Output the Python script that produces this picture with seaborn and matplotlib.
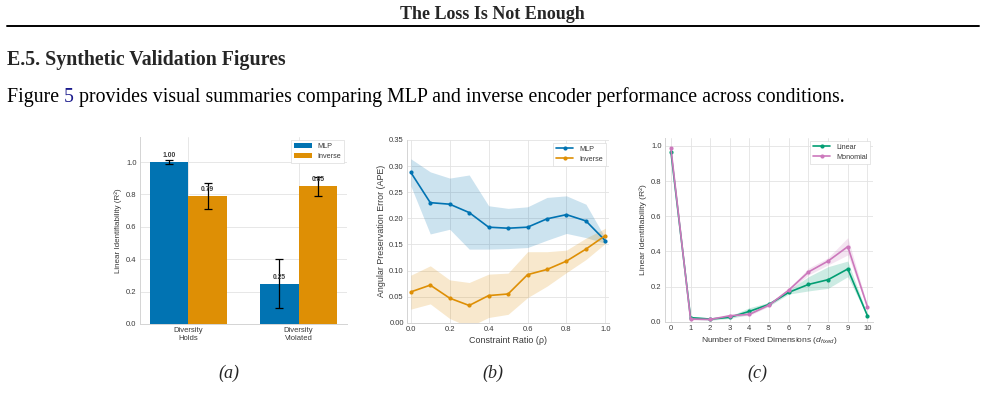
import numpy as np
import pandas as pd
import matplotlib
matplotlib.use("Agg")
import matplotlib.pyplot as plt
import seaborn as sns

# ---------------- data ----------------
conditions = ["Diversity\nHolds", "Diversity\nViolated"]
models = ["MLP", "Inverse"]
mlp_r2 = [1.00, 0.25]
mlp_r2_err = [0.01, 0.15]
inv_r2 = [0.79, 0.85]
inv_r2_err = [0.08, 0.06]

rho = [0.0, 0.1, 0.2, 0.3, 0.4, 0.5, 0.6, 0.7, 0.8, 0.9, 1.0]
mlp_ape = [0.288, 0.230, 0.227, 0.211, 0.183, 0.181, 0.183, 0.199, 0.207, 0.195, 0.157]
mlp_ape_lo = [0.262, 0.170, 0.179, 0.141, 0.141, 0.142, 0.144, 0.158, 0.171, 0.163, 0.152]
mlp_ape_hi = [0.314, 0.289, 0.277, 0.283, 0.224, 0.219, 0.222, 0.240, 0.243, 0.227, 0.162]
inv_ape = [0.059, 0.072, 0.047, 0.033, 0.052, 0.055, 0.092, 0.102, 0.118, 0.141, 0.167]
inv_ape_lo = [0.026, 0.036, 0.008, -0.008, 0.010, 0.016, 0.048, 0.070, 0.096, 0.121, 0.152]
inv_ape_hi = [0.091, 0.109, 0.082, 0.077, 0.093, 0.095, 0.136, 0.136, 0.139, 0.162, 0.181]

d_fixed = [0, 1, 2, 3, 4, 5, 6, 7, 8, 9, 10]
lin_r2 = [0.968, 0.023, 0.015, 0.025, 0.059, 0.099, 0.167, 0.212, 0.239, 0.300, 0.034]
lin_r2_lo = [0.955, 0.015, 0.008, 0.018, 0.042, 0.090, 0.157, 0.175, 0.190, 0.256, 0.028]
lin_r2_hi = [0.980, 0.030, 0.022, 0.032, 0.080, 0.110, 0.180, 0.256, 0.313, 0.345, 0.040]
mono_r2 = [0.987, 0.015, 0.013, 0.034, 0.042, 0.095, 0.180, 0.283, 0.345, 0.427, 0.085]
mono_r2_lo = [0.980, 0.010, 0.008, 0.028, 0.035, 0.088, 0.170, 0.266, 0.323, 0.380, 0.078]
mono_r2_hi = [0.994, 0.020, 0.018, 0.040, 0.050, 0.102, 0.190, 0.304, 0.364, 0.478, 0.092]

# ---------------- style ----------------
sns.set_theme(style="whitegrid")
pal = sns.color_palette("colorblind")
C_BLUE, C_ORANGE, C_GREEN, C_PINK = pal[0], pal[1], pal[2], pal[4]
plt.rcParams["font.family"] = ["Liberation Sans", "DejaVu Sans"]
plt.rcParams["mathtext.fontset"] = "custom"
plt.rcParams["mathtext.it"] = "Liberation Sans:italic"
plt.rcParams["mathtext.rm"] = "Liberation Sans"
plt.rcParams["axes.edgecolor"] = "#d4d4d4"
plt.rcParams["grid.color"] = "#e3e3e3"

FS = 5.5
LFS = 5.2
TXT = "#3a3a3a"

fig = plt.figure(figsize=(9.85, 3.98), dpi=100)
W, H = 985.0, 398.0


def axes_px(l, t, r, b):
    return fig.add_axes([l / W, 1 - b / H, (r - l) / W, (b - t) / H])


def style_ax(ax):
    sns.despine(ax=ax)
    ax.tick_params(labelsize=FS, colors=TXT, pad=2.5, length=0)
    ax.grid(True, linewidth=0.6)
    for s in ("left", "bottom"):
        ax.spines[s].set_linewidth(0.7)
    ax.set_axisbelow(True)


def style_legend(ax):
    lg = ax.legend(fontsize=LFS, loc="upper right", frameon=True, framealpha=1,
                   edgecolor="#dcdcdc", handlelength=2.4, handleheight=0.8,
                   borderpad=0.4, labelspacing=0.35, fancybox=False,
                   borderaxespad=0.4)
    lg.set_title(None)
    lg.get_frame().set_linewidth(0.5)
    for t in lg.get_texts():
        t.set_color(TXT)


# ---------------- (a) bars ----------------
axa = axes_px(140, 137, 347, 324)
df_a = pd.DataFrame({
    "condition": conditions * 2,
    "model": [models[0]] * 2 + [models[1]] * 2,
    "value": mlp_r2 + inv_r2,
})
sns.barplot(data=df_a, x="condition", y="value", hue="model", ax=axa,
            palette=[C_BLUE, C_ORANGE], width=0.7, errorbar=None,
            saturation=1, linewidth=0)
errs = [mlp_r2_err, inv_r2_err]
vals = [mlp_r2, inv_r2]
for cont, e, v in zip(axa.containers, errs, vals):
    xs = [p.get_x() + p.get_width() / 2 for p in cont]
    axa.errorbar(xs, v, yerr=e, fmt="none", ecolor="black", elinewidth=0.9,
                 capsize=2.8, capthick=0.9, zorder=5)
    for x, val in zip(xs, v):
        axa.text(x, val + 0.018, f"{val:.2f}", ha="center", va="bottom",
                 fontsize=4.9, fontweight="bold", color=TXT, zorder=6)
axa.set_ylim(0, 1.155)
axa.set_xlim(-0.44, 1.44)
axa.set_yticks([0.0, 0.2, 0.4, 0.6, 0.8, 1.0])
axa.set_xlabel("")
axa.set_ylabel("Linear Identifiability (R²)", fontsize=5.8, color=TXT, labelpad=3)
style_ax(axa)
style_legend(axa)

# ---------------- (b) lines ----------------
axb = axes_px(407.3, 140, 608.5, 322.7)
df_b = pd.DataFrame({
    "rho": rho * 2,
    "ape": mlp_ape + inv_ape,
    "model": [models[0]] * len(rho) + [models[1]] * len(rho),
})
sns.lineplot(data=df_b, x="rho", y="ape", hue="model", ax=axb,
             palette=[C_BLUE, C_ORANGE], marker="o", markersize=3.0,
             markeredgewidth=0, linewidth=1.2, errorbar=None)
axb.fill_between(rho, mlp_ape_lo, mlp_ape_hi, color=C_BLUE, alpha=0.2, linewidth=0)
axb.fill_between(rho, inv_ape_lo, inv_ape_hi, color=C_ORANGE, alpha=0.2, linewidth=0)
axb.set_xlim(-0.018, 1.016)
axb.set_ylim(0, 0.35)
axb.set_xticks([0.0, 0.2, 0.4, 0.6, 0.8, 1.0])
axb.set_yticks(np.arange(0, 0.351, 0.05))
axb.yaxis.set_major_formatter(matplotlib.ticker.FormatStrFormatter("%.2f"))
axb.xaxis.set_major_formatter(matplotlib.ticker.FormatStrFormatter("%.1f"))
axb.set_xlabel("Constraint Ratio (ρ)", fontsize=6.4, color=TXT, labelpad=2)
axb.set_ylabel("Angular Preservation Error (APE)", fontsize=6.4, color=TXT, labelpad=2.5)
style_ax(axb)
style_legend(axb)

# ---------------- (c) lines ----------------
axc = axes_px(665, 138, 873.3, 321.7)
series_c = ["Linear", "Monomial"]
df_c = pd.DataFrame({
    "d": d_fixed * 2,
    "r2": lin_r2 + mono_r2,
    "kind": [series_c[0]] * len(d_fixed) + [series_c[1]] * len(d_fixed),
})
sns.lineplot(data=df_c, x="d", y="r2", hue="kind", ax=axc,
             palette=[C_GREEN, C_PINK], marker="o", markersize=3.0,
             markeredgewidth=0, linewidth=1.2, errorbar=None)
axc.fill_between(d_fixed, lin_r2_lo, lin_r2_hi, color=C_GREEN, alpha=0.2, linewidth=0)
axc.fill_between(d_fixed, mono_r2_lo, mono_r2_hi, color=C_PINK, alpha=0.2, linewidth=0)
axc.set_xlim(-0.3, 10.3)
axc.set_ylim(0, 1.045)
axc.set_xticks(d_fixed)
axc.set_yticks([0.0, 0.2, 0.4, 0.6, 0.8, 1.0])
axc.set_xlabel("Number of Fixed Dimensions ($d_{fixed}$)", fontsize=6.1, color=TXT, labelpad=2)
axc.set_ylabel("Linear Identifiability (R²)", fontsize=6.1, color=TXT, labelpad=3)
style_ax(axc)
style_legend(axc)

# ---------------- page text ----------------
SERIF = ["Liberation Serif", "DejaVu Serif"]


def fy(px):
    return 1 - px / H


fig.text(492 / W, fy(19), "The Loss Is Not Enough", ha="center", va="baseline",
         fontsize=13, fontweight="bold", family=SERIF)
fig.add_artist(matplotlib.lines.Line2D([7 / W, 979 / W], [fy(25.7), fy(25.7)],
                                       color="black", linewidth=1.4))
fig.text(7 / W, fy(65), "E.5. Synthetic Validation Figures", ha="left", va="baseline",
         fontsize=14.3, fontweight="bold", family=SERIF)

renderer = fig.canvas.get_renderer()
parts = [("Figure ", "black"), ("5", "#1a1a8c"),
         (" provides visual summaries comparing MLP and inverse encoder performance across conditions.", "black")]
x0 = 7.0
for s, c in parts:
    t = fig.text(x0 / W, fy(101.7), s, ha="left", va="baseline", fontsize=14.3,
                 family=SERIF, color=c)
    bb = t.get_window_extent(renderer=renderer)
    x0 += bb.width

for lab, xc in (("(a)", 229), ("(b)", 493), ("(c)", 757)):
    fig.text(xc / W, fy(373), lab, ha="center", va="center", fontsize=13,
             style="italic", family=SERIF)

fig.savefig("out.png", dpi=100, facecolor="white")
